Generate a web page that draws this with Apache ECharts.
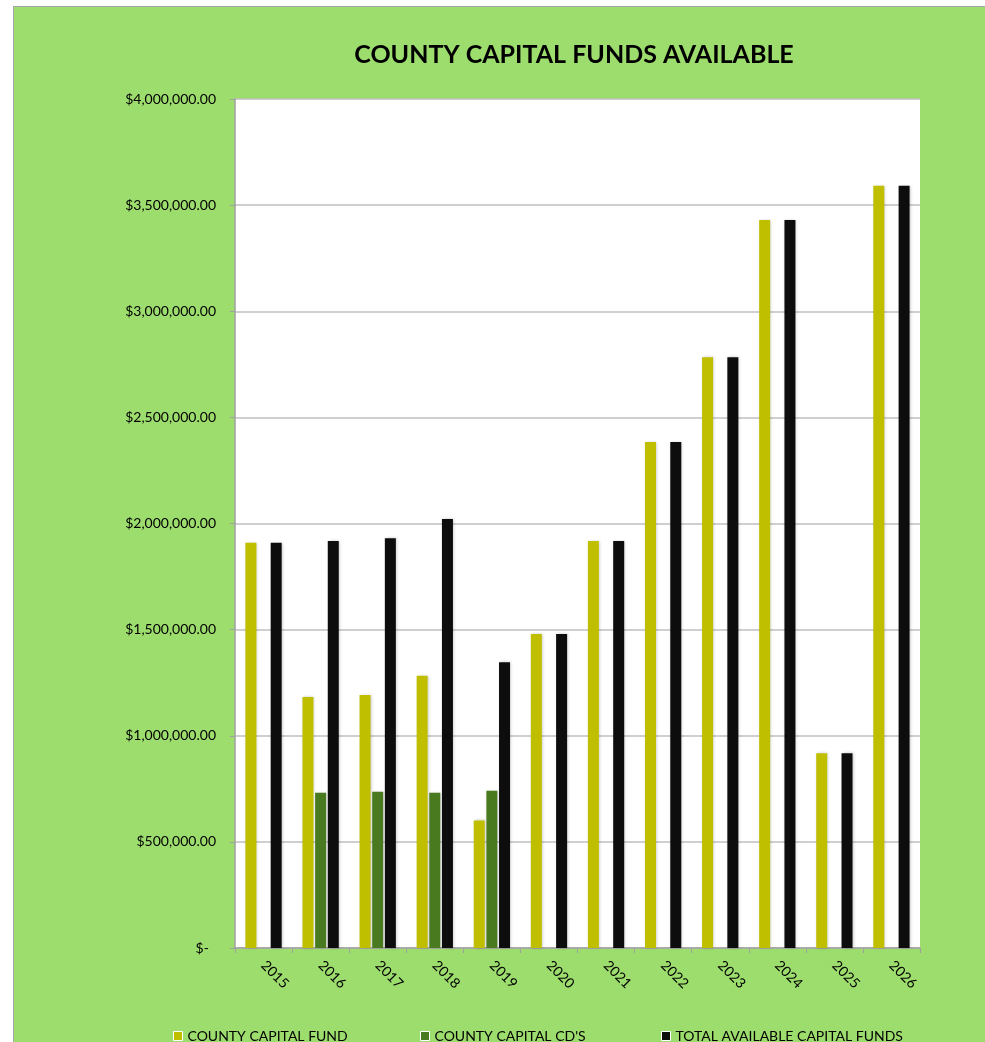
<!DOCTYPE html>
<html>
<head>
<meta charset="utf-8">
<script src="https://cdn.jsdelivr.net/npm/echarts@6/dist/echarts.min.js"></script>
<style>
  html, body { margin: 0; padding: 0; background: #ffffff; width: 985px; height: 1042px; overflow: hidden; }
  #chart { position: absolute; left: 13px; top: 6px; width: 972px; height: 1036px; border-left: 1px solid #a6a6a6; border-top: 1px solid #a6a6a6; background: #9ddd6d; }
</style>
</head>
<body>
<div id="chart"></div>
<script>
const years = ['2015','2016','2017','2018','2019','2020','2021','2022','2023','2024','2025','2026'];
const capitalFund = [1909000, 1182000, 1192000, 1283000, 601000, 1479000, 1918000, 2384000, 2783000, 3430000, 918000, 3591000];
const capitalCDs = [null, 732000, 736000, 732000, 741000, null, null, null, null, null, null, null];
const totalFunds = [1909000, 1917000, 1930000, 2021000, 1346000, 1479000, 1918000, 2384000, 2783000, 3430000, 918000, 3591000];
const seriesNames = ['COUNTY CAPITAL FUND', "COUNTY CAPITAL CD'S", 'TOTAL AVAILABLE CAPITAL FUNDS'];
const yTicks = { min: 0, max: 4000000, interval: 500000 };

const FONT = 'Lato, "Open Sans", sans-serif';
const chart = echarts.init(document.getElementById('chart'));

function money(v) {
  if (v === 0) return '$-  ';
  return '$' + v.toLocaleString('en-US', { minimumFractionDigits: 2, maximumFractionDigits: 2 });
}

const shadow = { shadowBlur: 3, shadowColor: 'rgba(0,0,0,0.22)', shadowOffsetX: 1, shadowOffsetY: 0 };
const colors = ['#bfbf00', '#4a7a1f', '#0d0d0d'];

function legendAt(name, left) {
  return {
    data: [name], left: left, top: 1022, itemWidth: 9, itemHeight: 9, icon: 'rect',
    itemStyle: { borderColor: '#ffffff', borderWidth: 1 },
    textStyle: { fontFamily: FONT, fontSize: 14, color: '#000' }, itemGap: 4, padding: 0
  };
}

chart.setOption({
  animation: false,
  backgroundColor: '#9ddd6d',
  color: colors,
  title: {
    text: 'COUNTY CAPITAL FUNDS AVAILABLE', left: 555, top: 30, textAlign: 'center',
    textStyle: { fontFamily: FONT, fontSize: 25, fontWeight: 'bold', color: '#000' }
  },
  legend: [legendAt(seriesNames[0], 159), legendAt(seriesNames[1], 406), legendAt(seriesNames[2], 647)],
  grid: { left: 221, top: 92, width: 685, height: 849, backgroundColor: '#ffffff', show: true, borderWidth: 0 },
  xAxis: {
    type: 'category', data: years,
    axisLine: { lineStyle: { color: '#a0a0a0', width: 1.5 } },
    axisTick: { show: true, length: 5, alignWithLabel: false, lineStyle: { color: '#a0a0a0' } },
    axisLabel: { rotate: -45, margin: 15, fontFamily: FONT, fontSize: 14, color: '#000' }
  },
  yAxis: {
    type: 'value', min: yTicks.min, max: yTicks.max, interval: yTicks.interval,
    axisLine: { show: true, lineStyle: { color: '#a0a0a0', width: 1.5 } },
    axisTick: { show: true, length: 5, lineStyle: { color: '#a0a0a0' } },
    splitLine: { lineStyle: { color: '#bfbfbf', width: 1.5 } },
    axisLabel: { formatter: money, margin: 19, fontFamily: FONT, fontSize: 14, color: '#000' }
  },
  series: [
    { name: seriesNames[0], type: 'bar', data: capitalFund, barWidth: 11, barGap: '15%', itemStyle: Object.assign({ color: colors[0] }, shadow) },
    { name: seriesNames[1], type: 'bar', data: capitalCDs, barWidth: 11, barGap: '15%', itemStyle: Object.assign({ color: colors[1] }, shadow) },
    { name: seriesNames[2], type: 'bar', data: totalFunds, barWidth: 11, barGap: '15%', itemStyle: Object.assign({ color: colors[2] }, shadow) }
  ]
});
</script>
</body>
</html>
